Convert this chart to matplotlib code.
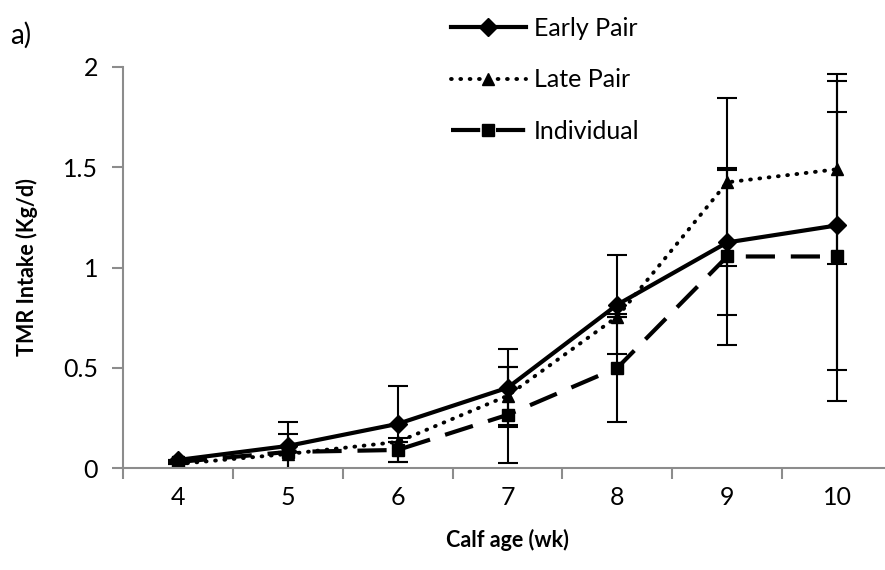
import matplotlib.pyplot as plt
import numpy as np

plt.rcParams['font.family'] = ['Lato', 'DejaVu Sans']

weeks = [4, 5, 6, 7, 8, 9, 10]
early = [0.04, 0.11, 0.22, 0.40, 0.815, 1.125, 1.21]
early_err = [0.0, 0.12, 0.19, 0.195, 0.245, 0.36, 0.72]
late = [0.02, 0.07, 0.13, 0.36, 0.755, 1.425, 1.49]
late_err = [0.0, 0.10, 0.0, 0.145, 0.0, 0.42, 0.475]
indiv = [0.03, 0.08, 0.09, 0.265, 0.50, 1.055, 1.055]
indiv_err = [0.0, 0.0, 0.06, 0.24, 0.27, 0.44, 0.72]

fig = plt.figure(figsize=(8.85, 5.7), dpi=100)
ax = fig.add_axes([123/885, 1 - 468/570, (892 - 123)/885, (468 - 67)/570])

x = np.arange(len(weeks))

l1, = ax.plot(x, early, color='black', lw=3, marker='D', ms=9, label='Early Pair')
l2, = ax.plot(x, late, color='black', lw=2.8, ls=(0, (0.2, 2.2)), dash_capstyle='round',
              marker='^', ms=9, label='Late Pair')
l3, = ax.plot(x, indiv, color='black', lw=3, ls=(0, (7, 3.8)), marker='s', ms=9, label='Individual')

for vals, err in [(early, early_err), (late, late_err), (indiv, indiv_err)]:
    ax.errorbar(x, vals, yerr=err, fmt='none', ecolor='black', elinewidth=1.5,
                capsize=7, capthick=1.5)

ax.set_xlim(-0.5, len(weeks) - 0.5)
ax.set_ylim(0, 2)
ax.set_yticks([0, 0.5, 1, 1.5, 2])
ax.set_yticklabels(['0', '0.5', '1', '1.5', '2'])

ax.set_xticks(x)
ax.set_xticklabels([str(w) for w in weeks])
ax.set_xticks(np.arange(len(weeks) + 1) - 0.5, minor=True)
ax.tick_params(axis='x', which='major', length=0, pad=13, labelsize=18)
ax.tick_params(axis='x', which='minor', length=8, width=1.5, color='#8c8c8c')
ax.tick_params(axis='y', length=8, width=1.5, color='#8c8c8c', labelsize=18, pad=10)

for s in ['top', 'right']:
    ax.spines[s].set_visible(False)
for s in ['left', 'bottom']:
    ax.spines[s].set_color('#8c8c8c')
    ax.spines[s].set_linewidth(1.5)

ax.set_xlabel('Calf age (wk)', fontsize=15.5, fontweight='bold', labelpad=14)
ax.set_ylabel('TMR Intake (Kg/d)', fontsize=15.5, fontweight='bold', labelpad=18)

fig.text(10/885, 1 - 35/570, 'a)', fontsize=20, va='center', ha='left')

fig.legend(handles=[l1, l2, l3], loc='upper left', bbox_to_anchor=(428/885, 1 + 6/570),
           frameon=False, fontsize=18, handlelength=3.0, handletextpad=0.35,
           labelspacing=1.15)

fig.savefig('out.png', dpi=100)
